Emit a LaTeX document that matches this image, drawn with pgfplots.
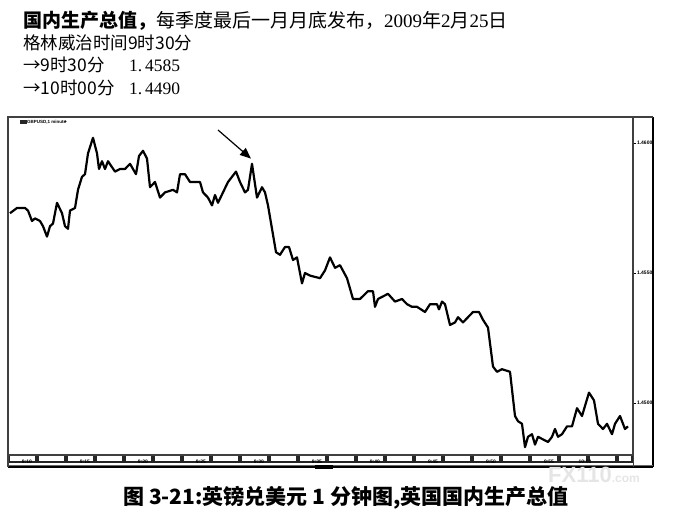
\documentclass[border=0pt]{standalone}
\usepackage{pgfplots}
\pgfplotsset{compat=1.18}
\usepackage{pgfplotstable}
\usepackage{fontspec}
\setmainfont{Liberation Serif}
\newfontfamily\cjk{Noto Sans CJK SC}
\newfontfamily\sans{Liberation Sans}
\usetikzlibrary{arrows.meta}
\pgfplotstableread{
idx price
2 1.4573
9 1.4575
17 1.4575
20 1.4574
24 1.4570
27 1.4571
32 1.4570
35 1.4568
39 1.4564
42 1.4568
45 1.4569
49 1.4577
54 1.4573
57 1.4568
60 1.4567
62 1.4574
67 1.4575
70 1.4582
74 1.4587
77 1.4588
80 1.4596
85 1.4602
89 1.4596
91 1.4590
94 1.4593
97 1.4590
100 1.4593
107 1.4589
112 1.4590
117 1.4590
122 1.4592
128 1.4588
131 1.4595
135 1.4597
139 1.4594
142 1.4583
147 1.4585
152 1.4579
157 1.4581
165 1.4582
169 1.4581
172 1.4588
177 1.4588
182 1.4585
187 1.4585
192 1.4585
195 1.4581
200 1.4579
204 1.4576
207 1.4580
210 1.4577
215 1.4581
220 1.4585
224 1.4587
228 1.4589
232 1.4585
237 1.4581
240 1.4582
244 1.4592
249 1.4579
254 1.4583
257 1.4581
260 1.4576
264 1.4567
268 1.4558
272 1.4557
277 1.4560
281 1.4560
285 1.4555
289 1.4556
292 1.4550
294 1.4546
297 1.4550
302 1.4549
312 1.4548
317 1.4551
322 1.4556
327 1.4552
332 1.4553
339 1.4548
345 1.4540
352 1.4540
360 1.4543
365 1.4543
367 1.4537
370 1.4540
380 1.4542
387 1.4539
394 1.4540
399 1.4538
404 1.4537
409 1.4537
417 1.4535
422 1.4538
429 1.4538
431 1.4536
434 1.4539
437 1.4538
442 1.4530
447 1.4531
450 1.4533
455 1.4531
465 1.4535
471 1.4535
475 1.4532
480 1.4529
485 1.4514
489 1.4512
494 1.4513
502 1.4512
507 1.4495
510 1.4493
514 1.4492
517 1.4483
520 1.4487
524 1.4488
527 1.4484
530 1.4487
535 1.4486
540 1.4485
544 1.4487
547 1.4490
550 1.4487
554 1.4488
559 1.4491
564 1.4491
569 1.4498
574 1.4495
581 1.4504
586 1.4501
590 1.4492
595 1.4490
599 1.4492
604 1.4488
607 1.4492
612 1.4495
617 1.4490
620 1.4491
}\gbpusd
\begin{document}
\begin{tikzpicture}
\useasboundingbox (0pt,0pt) rectangle (686pt,517pt);
% header text
\node[anchor=base west, inner sep=0pt, font=\fontsize{19}{20}\selectfont] at (23pt,489pt)
  {{\cjk\bfseries 国内生产总值，}{\cjk 每季度最后一月月底发布，}2009{\cjk 年}2{\cjk 月}25{\cjk 日}};
\node[anchor=base west, inner sep=0pt, font=\fontsize{17.5}{18}\selectfont] at (23pt,467pt)
  {\cjk 格林威治时间9时30分};
\node[anchor=base west, inner sep=0pt, font=\fontsize{17.5}{18}\selectfont] at (23pt,445pt)
  {\cjk →9时30分};
\node[anchor=base west, inner sep=0pt, font=\fontsize{17.5}{18}\selectfont] at (129pt,445pt)
  {1.\,4585};
\node[anchor=base west, inner sep=0pt, font=\fontsize{17.5}{18}\selectfont] at (23pt,422pt)
  {\cjk →10时00分};
\node[anchor=base west, inner sep=0pt, font=\fontsize{17.5}{18}\selectfont] at (129pt,422pt)
  {1.\,4490};
% time bar (decoration)
\fill[black!85] (8pt,54pt) rectangle (633pt,62pt);
\foreach \s in {0,29,...,609}{
  \fill[white] ({(8+\s+2)*1pt},55.5pt) rectangle ({min(8+\s+27,631)*1pt},60.5pt);
}
\begin{axis}[
  at={(8pt,62pt)}, anchor=south west,
  scale only axis, width=625pt, height=338pt,
  xmin=0, xmax=625, ymin=1.4480, ymax=1.4610,
  axis line style={draw=black!75, line width=1.2pt},
  ytick={1.4500,1.4550,1.4600},
  yticklabels={1.4500,1.4550,1.4600},
  ytick pos=right, yticklabel pos=right,
  tick align=outside, major tick length=3pt,
  y tick style={black, line width=0.8pt},
  yticklabel style={font=\sans\bfseries\fontsize{5}{5}\selectfont, xshift=-2.5pt},
  xtick={19,77,135,193,251,309,367,425,483,541,577},
  xticklabels={9:10,9:15,9:20,9:25,9:30,9:35,9:40,9:45,9:50,9:55,10:00},
  x tick style={draw=none},
  xticklabel style={font=\sans\bfseries\fontsize{5}{5}\selectfont, anchor=center, yshift=-4pt},
  clip=false,
]
\addplot[black, line width=2.2pt, line join=round] table[x=idx,y=price]{\gbpusd};
\draw[black, line width=1.2pt, -{Triangle[length=11pt,width=9pt]}]
  (axis cs:210,1.4605) -- (axis cs:243,1.4594);
\end{axis}
% legend blob top-left
\fill[black!85] (20pt,397pt) rectangle (27pt,393pt);
\node[anchor=west, inner sep=0pt, font=\sans\bfseries\fontsize{4.5}{4.5}\selectfont] at (27pt,395pt) {GBPUSD,1 minute};
\node[anchor=west, inner sep=0pt, font=\sans\bfseries\fontsize{5}{5}\selectfont] at (64pt,395pt) {+};
% right price column and bottom frame
\draw[black, line width=1.2pt] (653pt,400pt) -- (653pt,50pt);
\draw[black!75, line width=1.2pt] (633pt,400pt) -- (653pt,400pt);
\draw[black!60, line width=0.8pt] (8pt,52pt) -- (653pt,52pt);
\draw[black, line width=1.2pt] (8pt,50pt) -- (653pt,50pt);
\draw[black!75, line width=1.2pt] (8pt,62pt) -- (8pt,50pt);
\draw[black!75, line width=1pt] (633pt,62pt) -- (633pt,50pt);
\fill[black] (315pt,52pt) rectangle (333pt,48pt);
% watermark
\node[anchor=west, inner sep=0pt, text=black!10, font=\sans\bfseries\fontsize{22}{22}\selectfont] at (548pt,42pt) {FX110\fontsize{12}{12}\selectfont.com};
% caption
\node[anchor=base, inner sep=0pt, font=\fontsize{21}{22}\selectfont] at (346pt,12pt)
  {\cjk\bfseries 图 3-21:英镑兑美元 1 分钟图,英国国内生产总值};
\end{tikzpicture}
\end{document}
